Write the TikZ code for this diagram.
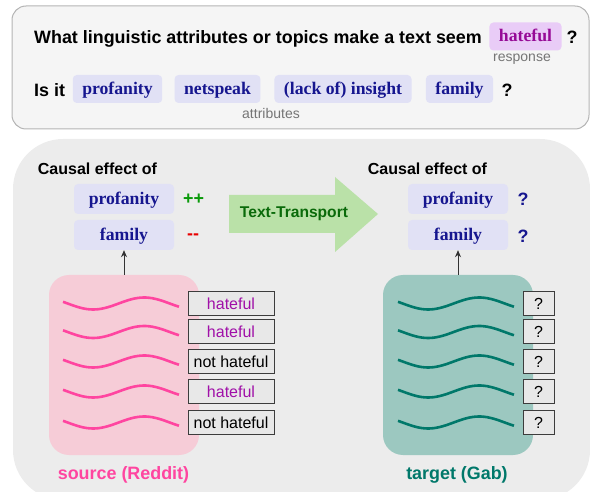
\documentclass[tikz,border=0pt]{standalone}
\usepackage{fontspec}
\setmainfont{Liberation Serif}
\setsansfont{Liberation Sans}
\usepackage{tikz}
\usetikzlibrary{arrows.meta}
\definecolor{panelgray}{HTML}{F5F5F5}
\definecolor{panelline}{HTML}{B4B4B4}
\definecolor{lowergray}{HTML}{ECECEC}
\definecolor{attrfill}{HTML}{E1E1F5}
\definecolor{attrtext}{HTML}{16168F}
\definecolor{respfill}{HTML}{E9CCF7}
\definecolor{resptext}{HTML}{960A96}
\definecolor{hatetext}{HTML}{A010A8}
\definecolor{notegray}{HTML}{757575}
\definecolor{ttfill}{HTML}{BAE1A8}
\definecolor{tttext}{HTML}{0A6A0A}
\definecolor{plusgreen}{HTML}{0A9A0A}
\definecolor{minusred}{HTML}{E80000}
\definecolor{redditfill}{HTML}{F6CCD7}
\definecolor{redditpink}{HTML}{FF45A0}
\definecolor{gabfill}{HTML}{9CC8C0}
\definecolor{gabteal}{HTML}{00786A}
\definecolor{labfill}{HTML}{E8E8E8}
\definecolor{labline}{HTML}{3C3C3C}
\def\wavepath#1#2{plot[domain=0:1,samples=40] ({#1+116*\x},{#2+6*sin(360*(\x-0.26)/0.88+90)})}

\begin{document}
\begin{tikzpicture}[x=1pt,y=-1pt,
  attr/.style={fill=attrfill,rounded corners=4pt,inner xsep=9.5pt,inner ysep=0pt,text height=13.5pt,text depth=3pt,minimum height=28pt,text=attrtext,font=\fontsize{17.7}{20}\selectfont\bfseries},
  effect/.style={attr,minimum width=100pt,minimum height=30pt},
  head/.style={inner sep=0pt,font=\sffamily\bfseries\fontsize{17.9}{20}\selectfont},
  cause/.style={inner sep=0pt,font=\sffamily\bfseries\fontsize{16}{18}\selectfont},
  note/.style={inner sep=0pt,text=notegray,font=\sffamily\fontsize{14}{16}\selectfont},
  lab/.style={draw=labline,fill=labfill,line width=1pt,minimum height=24pt,inner sep=0pt,text height=11.5pt,text depth=0pt,font=\sffamily\fontsize{16}{18}\selectfont},
  block/.style={minimum width=150pt,minimum height=180pt,rounded corners=20pt,inner sep=0pt},
  up/.style={-{Stealth[length=7pt,width=6pt]},line width=0.9pt,black!80}]
  \useasboundingbox (0,0) rectangle (590,492);
  \fill[panelgray,draw=panelline,line width=1pt,rounded corners=14pt] (12,6) rectangle (589,129);
  \fill[lowergray,rounded corners=50pt] (13,139) rectangle (590,500);

  % question
  \node[head,anchor=base west] (ask) at (34,43.3) {What linguistic attributes or topics make a text seem};
  \node[attr,fill=respfill,text=resptext] (resp) at (525.5,36.5) {hateful};
  \node[head,anchor=base] (askq) at (572,43.3) {?};
  \node[note] (respnote) at (522,58.8) {response};
  \node[head,anchor=base west] (isit) at (34,96.5) {Is it};
  \node[attr] (aprof) at (117.5,89) {profanity};
  \node[attr] (anet) at (217.5,89) {netspeak};
  \node[attr] (ainsight) at (343,89) {(lack of) insight};
  \node[attr] (afam) at (459.5,89) {family};
  \node[head,anchor=base] (isq) at (507,96.5) {?};
  \node[note] (attrnote) at (271,113) {attributes};

  % effects
  \node[cause,anchor=base] (lcause) at (97.5,174.3) {Causal effect of};
  \node[effect] (lprof) at (124,199) {profanity};
  \node[effect] (lfam) at (124,235) {family};
  \node[head,text=plusgreen] (lplus) at (193.5,199) {++};
  \node[head,text=minusred] (lminus) at (193,236.7) {-{}-};
  \node[cause,anchor=base] (rcause) at (427.5,174.3) {Causal effect of};
  \node[effect] (rprof) at (458,199) {profanity};
  \node[effect] (rfam) at (458,235) {family};
  \node[head,text=attrtext] (rprofq) at (523,199) {?};
  \node[head,text=attrtext] (rfamq) at (523,236) {?};

  \fill[ttfill] (229,195) -- (335,195) -- (335,177) -- (378,214) -- (335,252) -- (335,233) -- (229,233) -- cycle;
  \node[inner sep=0pt,text=tttext,font=\sffamily\bfseries\fontsize{15.6}{18}\selectfont] (transport) at (294,214) {Text-Transport};

  % corpora
  \node[block,fill=redditfill] (src) at (124,365) {};
  \node[block,fill=gabfill] (tgt) at (458,365) {};
  \draw[up] (src.north) -- (lfam.south);
  \draw[up] (tgt.north) -- (rfam.south);
  \foreach \rowy/\lab/\labcol [count=\i] in {303.5/hateful/hatetext,332/hateful/hatetext,361.5/not hateful/black,391.5/hateful/hatetext,422.5/not hateful/black}{
    \draw[redditpink,line width=2.6pt] \wavepath{63}{\rowy};
    \draw[gabteal,line width=2.6pt] \wavepath{398}{\rowy};
    \node[lab,minimum width=86pt,text=\labcol] (slab\i) at (231,\rowy) {\lab};
    \node[lab,minimum width=31pt] (tlab\i) at (538.5,\rowy) {?};
  }
  \node[head,anchor=base,text=redditpink] (srcname) at (123.5,479) {source (Reddit)};
  \node[head,anchor=base,text=gabteal] (tgtname) at (457,479) {target (Gab)};
\end{tikzpicture}
\end{document}
